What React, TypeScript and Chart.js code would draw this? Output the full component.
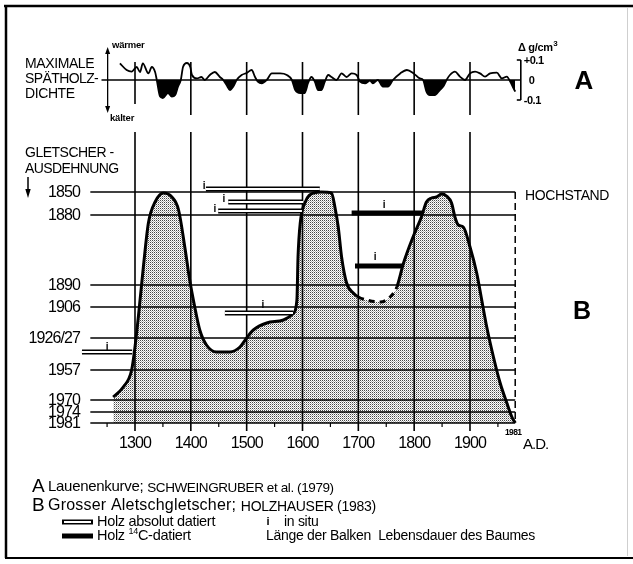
import React, { useEffect, useRef } from "react";
import { Chart, registerables } from "chart.js";

Chart.register(...registerables);

// ---------- Panel A: maximale Spätholzdichte (Δ g/cm³) ----------
const densityYears = [
  1273, 1285, 1294, 1303, 1309, 1314, 1324, 1330, 1336, 1339, 1345, 1350, 1359, 1366, 1372, 1377, 1382,
  1386, 1393, 1399, 1402, 1411, 1419, 1425, 1434, 1443, 1452, 1458, 1464, 1470, 1476, 1482, 1491, 1500,
  1509, 1515, 1520, 1527, 1536, 1545, 1560, 1572, 1581, 1587, 1596, 1604, 1610, 1616, 1622, 1628, 1634,
  1640, 1646, 1652, 1661, 1670, 1679, 1688, 1697, 1703, 1712, 1721, 1726, 1735, 1744, 1753, 1762, 1775,
  1787, 1799, 1810, 1816, 1822, 1828, 1837, 1846, 1852, 1858, 1864, 1873, 1882, 1891, 1900, 1909, 1918,
  1927, 1936, 1948, 1957, 1966, 1972, 1978, 1981,
];
const densityValues = [
  0.083, 0.05, 0.042, 0.065, 0.04, 0.083, 0.033, 0.065, 0.04, 0, -0.083, -0.09, -0.065, -0.083, -0.075, -0.033, 0,
  0.065, 0.085, 0.065, 0.025, 0.008, 0.015, 0, 0.025, 0.04, 0.015, 0, -0.025, -0.05, -0.033, 0, 0.025, 0.035,
  0.05, 0.015, -0.008, -0.017, 0, 0.033, 0.033, 0.025, 0, -0.05, -0.065, -0.065, -0.015, 0.015, -0.008, -0.05, -0.05,
  -0.008, 0.025, 0.015, 0, 0.033, 0.015, 0.033, 0.025, -0.008, -0.017, -0.003, -0.017, 0, -0.033, -0.033, 0, 0.033,
  0.05, 0.033, 0.008, 0, -0.058, -0.075, -0.075, -0.05, -0.033, 0, 0.025, 0.042, 0.017, 0, 0.033, 0.042, 0.033,
  0.017, 0.033, 0.037, 0.008, 0.017, -0.008, -0.042, -0.058,
];
const densityTickValues = [0.1, 0, -0.1];
const densityTickLabels = ["+0.1", "0", "-0.1"];

// ---------- Panel B: Grosser Aletschgletscher (extent, relative units) ----------
const glacierYears = [
  1261, 1279, 1294, 1300, 1306, 1315, 1324, 1336, 1351, 1366, 1378, 1390, 1398, 1407, 1416, 1428, 1446, 1470,
  1488, 1500, 1512, 1536, 1566, 1584, 1590, 1592, 1596, 1605, 1620, 1634, 1652, 1658, 1664, 1670, 1679, 1691,
  1700, 1715, 1739, 1757, 1769, 1781, 1798, 1813, 1822, 1831, 1840, 1849, 1858, 1867, 1873, 1879, 1888, 1900,
  1912, 1921, 1930, 1942, 1954, 1966, 1975, 1981,
];
const glacierExtent = [
  26, 36, 53, 76, 106, 156, 200, 221, 230, 226, 213, 173, 143, 116, 93, 78, 71, 71,
  76, 85, 93, 100, 103, 110, 123, 166, 200, 221, 230, 231, 230, 216, 196, 166, 140, 130,
  126, 123, 121, 126, 136, 160, 186, 206, 221, 225, 226, 229, 227, 220, 206, 198, 196, 176,
  150, 123, 96, 66, 40, 20, 6, 0,
];
const uncertainFrom = 1700;
const uncertainTo = 1769;

// glacier-position tick labels (left axis)
const extentTickValues = [231, 208, 138, 116, 85, 53, 23, 11, 0];
const extentTickLabels = ["1850", "1880", "1890", "1906", "1926/27", "1957", "1970", "1974", "1981"];

const centuryTicks = [1300, 1400, 1500, 1600, 1700, 1800, 1900];
const minorTicks = [1250, 1350, 1450, 1550, 1650, 1750, 1850, 1950];

// wood finds: absolutely dated (open bars)
const absBarStart = [1427, 1467, 1449, 1461, 1205];
const absBarEnd = [1631, 1601, 1599, 1583, 1295];
const absBarExtent = [234, 221, 212, 110, 71];
// wood finds: 14C dated (solid bars)
const c14BarStart = [1688, 1694];
const c14BarEnd = [1816, 1779];
const c14BarExtent = [210, 157];
// "i" = in situ marks
const inSituYears = [1424, 1459, 1443, 1529, 1250, 1746, 1730];
const inSituExtent = [237, 224, 214, 118, 76, 218, 166];

const FONT = '"Liberation Sans", Arial, Helvetica, sans-serif';

function barData(starts: number[], ends: number[], ext: number[]) {
  const out: any[] = [];
  starts.forEach((s, i) => {
    out.push({ x: s, y: ext[i] });
    out.push({ x: ends[i], y: ext[i] });
    out.push({ x: ends[i] + 0.5, y: null });
  });
  return out;
}

function makePattern(): CanvasPattern | string {
  const c = document.createElement("canvas");
  c.width = 2;
  c.height = 2;
  const g = c.getContext("2d");
  if (!g) return "#c4c4c4";
  g.fillStyle = "rgba(0,0,0,0.72)";
  g.fillRect(0, 0, 1, 1);
  g.fillStyle = "rgba(0,0,0,0.3)";
  g.fillRect(1, 1, 1, 1);
  const p = g.createPattern(c, "repeat");
  return p || "#c4c4c4";
}

const decorPlugin = {
  id: "decor",
  beforeDatasetsDraw(chart: any) {
    const { ctx } = chart;
    const x = chart.scales.x;
    const yA = chart.scales.yA;
    const yB = chart.scales.yB;
    const line = (x1: number, y1: number, x2: number, y2: number) => {
      ctx.beginPath();
      ctx.moveTo(x1, y1);
      ctx.lineTo(x2, y2);
      ctx.stroke();
    };
    ctx.save();
    ctx.strokeStyle = "#000";
    ctx.lineCap = "butt";
    // century lines
    ctx.lineWidth = 1.6;
    centuryTicks.forEach((yr) => {
      const px = x.getPixelForValue(yr);
      line(px, yA.getPixelForValue(0.09), px, yA.getPixelForValue(yr === 1300 ? -0.12 : -0.175));
      line(px, yB.getPixelForValue(291), px, yB.getPixelForValue(-8));
    });
    // minor ticks
    ctx.lineWidth = 1.2;
    const base = yB.getPixelForValue(0);
    minorTicks.forEach((yr) => {
      const px = x.getPixelForValue(yr);
      line(px, base, px, base + 4);
    });
    // horizontal glacier-position lines
    ctx.lineWidth = 1.5;
    const xl = x.getPixelForValue(1220);
    const xr = x.getPixelForValue(1981);
    extentTickValues.forEach((v) => {
      const py = yB.getPixelForValue(v);
      line(xl, py, xr, py);
    });
    // right dashed limit
    ctx.setLineDash([7, 4]);
    line(xr, yB.getPixelForValue(231), xr, yB.getPixelForValue(0));
    ctx.setLineDash([]);
    // zero line panel A + bracket
    ctx.lineWidth = 1.6;
    const z = yA.getPixelForValue(0);
    const xb = x.getPixelForValue(1991);
    line(x.getPixelForValue(1240), z, xb, z);
    line(xb, yA.getPixelForValue(0.1), xb, yA.getPixelForValue(-0.1));
    line(xb - 4, yA.getPixelForValue(0.1), xb, yA.getPixelForValue(0.1));
    line(xb - 4, yA.getPixelForValue(-0.1), xb, yA.getPixelForValue(-0.1));
    // double arrow wärmer / kälter
    const ax = x.getPixelForValue(1251);
    const at = yA.getPixelForValue(0.165);
    const ab = yA.getPixelForValue(-0.165);
    ctx.lineWidth = 1.3;
    line(ax, at + 4, ax, ab - 4);
    ctx.fillStyle = "#000";
    ctx.beginPath();
    ctx.moveTo(ax, at);
    ctx.lineTo(ax - 2.5, at + 7);
    ctx.lineTo(ax + 2.5, at + 7);
    ctx.closePath();
    ctx.fill();
    ctx.beginPath();
    ctx.moveTo(ax, ab);
    ctx.lineTo(ax - 2.5, ab - 7);
    ctx.lineTo(ax + 2.5, ab - 7);
    ctx.closePath();
    ctx.fill();
    ctx.restore();
  },
  afterDraw(chart: any) {
    const { ctx } = chart;
    const x = chart.scales.x;
    const yA = chart.scales.yA;
    const yB = chart.scales.yB;
    const text = (
      s: string,
      px: number,
      py: number,
      size: number,
      align: CanvasTextAlign = "left",
      bold = false,
      ls = 0
    ) => {
      ctx.font = `${bold ? "bold " : ""}${size}px ${FONT}`;
      (ctx as any).letterSpacing = `${ls}px`;
      ctx.textAlign = align;
      ctx.fillText(s, px, py);
      const w = ctx.measureText(s).width;
      return w;
    };
    const line = (x1: number, y1: number, x2: number, y2: number) => {
      ctx.beginPath();
      ctx.moveTo(x1, y1);
      ctx.lineTo(x2, y2);
      ctx.stroke();
    };
    ctx.save();
    ctx.fillStyle = "#000";
    ctx.strokeStyle = "#000";
    ctx.textBaseline = "middle";

    // frame
    ctx.lineWidth = 2.5;
    line(4, 6, 633, 6);
    line(6, 5, 6, 558);
    ctx.lineWidth = 2;
    line(5, 558, 633, 558);
    ctx.strokeStyle = "#cfcfcf";
    ctx.lineWidth = 1;
    line(627.5, 8, 627.5, 556);
    ctx.strokeStyle = "#000";

    // panel A labels
    text("MAXIMALE", 25, 64, 14, "left", false, -0.4);
    text("SPÄTHOLZ-", 25, 79, 14, "left", false, -0.6);
    text("DICHTE", 25, 94, 14, "left", false, -0.4);
    text("wärmer", 112, 45, 9.5, "left", true, -0.2);
    text("kälter", 110, 118, 9.5, "left", true, -0.2);
    const xb = x.getPixelForValue(1991);
    text("Δ g/cm", 518, 48, 11, "left", true, -0.3);
    ctx.font = `bold 11px ${FONT}`;
    const wg = ctx.measureText("Δ g/cm").width;
    text("3", 518 + wg + 0.5, 44, 8, "left", true);
    densityTickValues.forEach((v, i) => {
      text(densityTickLabels[i], xb + (v === 0 ? 8 : 3), yA.getPixelForValue(v) + 1, 11, "left", true, -0.5);
    });
    text("A", 584, 82, 26, "center", true);

    // panel B labels
    text("GLETSCHER -", 25, 153, 14, "left", false, -0.5);
    text("AUSDEHNUNG", 25, 169, 14, "left", false, -0.6);
    ctx.lineWidth = 1.5;
    line(28, 177, 28, 190);
    ctx.beginPath();
    ctx.moveTo(28, 198);
    ctx.lineTo(25.3, 189);
    ctx.lineTo(30.7, 189);
    ctx.closePath();
    ctx.fill();
    extentTickValues.forEach((v, i) => {
      text(extentTickLabels[i], 80, yB.getPixelForValue(v) + 0.5, 16, "right", false, -0.9);
    });
    text("HOCHSTAND", 525, 196, 14, "left", false, -0.4);
    text("B", 582, 312, 25, "center", true);

    // in situ marks
    inSituYears.forEach((yr, i) => {
      text("i", x.getPixelForValue(yr), yB.getPixelForValue(inSituExtent[i]), 10, "center", true);
    });

    // x axis labels
    centuryTicks.forEach((yr) => {
      text(String(yr), x.getPixelForValue(yr), 444, 16, "center", false, -0.9);
    });
    text("1981", x.getPixelForValue(1981) - 2, 433, 8.5, "center", true, -0.6);
    text("A.D.", 523, 445, 15, "left", false, -1);

    // legend
    let cx = 32;
    text("A", cx, 487, 19, "left", false);
    cx = 48;
    cx += text("Lauenenkurve; ", cx, 487, 15, "left", false, -0.3);
    text("SCHWEINGRUBER et al. (1979)", cx, 488, 13.5, "left", false, -0.4);
    text("B", 32, 506, 19, "left", false);
    cx = 48;
    cx += text("Grosser Aletschgletscher; ", cx, 506, 16, "left", false, 0.2);
    text("HOLZHAUSER (1983)", cx, 507, 14, "left", false, -0.3);
    // legend samples
    ctx.lineCap = "butt";
    ctx.lineWidth = 5;
    line(62, 522, 93, 522);
    ctx.strokeStyle = "#fff";
    ctx.lineWidth = 2;
    line(64, 522, 91, 522);
    ctx.strokeStyle = "#000";
    ctx.lineWidth = 5;
    line(62, 536, 93, 536);
    text("Holz absolut datiert", 97, 522, 14.5, "left", false, -0.3);
    text("i", 268, 522, 11, "center", true);
    text("in situ", 284, 522, 14, "left", false, -0.3);
    cx = 97;
    cx += text("Holz ", cx, 536, 14.5, "left", false, -0.3);
    cx += text("14", cx, 532, 9, "left", false, -0.3);
    text("C-datiert", cx, 536, 14.5, "left", false, -0.3);
    text("Länge der Balken  Lebensdauer des Baumes", 266, 536, 14, "left", false, -0.3);
    ctx.restore();
  },
};

export default function App() {
  const ref = useRef<HTMLCanvasElement>(null);

  useEffect(() => {
    const canvas = ref.current;
    if (!canvas) return;
    const pattern = makePattern();

    const density = densityYears.map((yr, i) => ({ x: yr, y: densityValues[i] }));
    const glacier = glacierYears.map((yr, i) => ({ x: yr, y: glacierExtent[i] }));

    const chart = new Chart(canvas, {
      type: "line",
      data: {
        datasets: [
          {
            label: "Holz absolut datiert (innen)",
            data: barData(absBarStart, absBarEnd, absBarExtent),
            yAxisID: "yB",
            borderColor: "#fff",
            borderWidth: 1.8,
            pointRadius: 0,
            fill: false,
            spanGaps: false,
            tension: 0,
            order: 0,
          },
          {
            label: "Holz absolut datiert",
            data: barData(absBarStart, absBarEnd, absBarExtent),
            yAxisID: "yB",
            borderColor: "#000",
            borderWidth: 5,
            pointRadius: 0,
            fill: false,
            spanGaps: false,
            tension: 0,
            order: 1,
          },
          {
            label: "Holz 14C-datiert",
            data: barData(c14BarStart, c14BarEnd, c14BarExtent),
            yAxisID: "yB",
            borderColor: "#000",
            borderWidth: 5,
            pointRadius: 0,
            fill: false,
            spanGaps: false,
            tension: 0,
            order: 2,
          },
          {
            label: "Grosser Aletschgletscher",
            data: glacier,
            yAxisID: "yB",
            borderColor: "#000",
            borderWidth: 3,
            pointRadius: 0,
            cubicInterpolationMode: "monotone",
            backgroundColor: pattern as any,
            fill: "origin",
            segment: {
              borderDash: (c: any) =>
                c.p0.parsed.x >= uncertainFrom && c.p1.parsed.x <= uncertainTo ? [6, 5] : undefined,
            },
            order: 5,
          },
          {
            label: "Lauenenkurve",
            data: density,
            yAxisID: "yA",
            borderColor: "#000",
            borderWidth: 1.8,
            pointRadius: 0,
            cubicInterpolationMode: "monotone",
            fill: { target: "origin", above: "rgba(0,0,0,0)", below: "#000" },
            order: 6,
          },
        ] as any,
      },
      options: {
        responsive: false,
        animation: false,
        devicePixelRatio: 1,
        events: [],
        layout: { padding: { left: 68, right: 107.17, top: 40, bottom: 141 } },
        scales: {
          x: { type: "linear", min: 1180, max: 2000, display: false },
          yA: { type: "linear", min: -1.715, max: 0.2, display: false },
          yB: { type: "linear", min: 0, max: 383, display: false },
        },
        plugins: {
          legend: { display: false },
          tooltip: { enabled: false },
        },
      } as any,
      plugins: [decorPlugin],
    });
    return () => chart.destroy();
  }, []);

  return (
    <div style={{ position: "absolute", left: 0, top: 0, width: 633, height: 564, background: "#fff" }}>
      <canvas ref={ref} width={633} height={564} style={{ display: "block", width: 633, height: 564 }} />
    </div>
  );
}
